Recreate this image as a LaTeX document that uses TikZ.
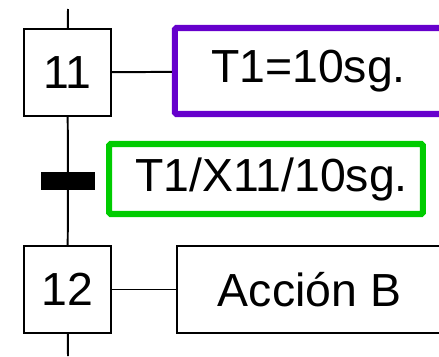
\documentclass[tikz,border=0pt]{standalone}
\usepackage{fontspec}
\setmainfont{Liberation Sans}
\usepackage{tikz}
\definecolor{morado}{RGB}{102,0,204}
\definecolor{verde}{RGB}{0,204,0}
\tikzstyle{every node}=[font=\fontsize{33}{40}\selectfont, inner sep=0pt]
\tikzstyle{etapa}=[draw, line width=1.4pt, minimum size=2.175cm]
\tikzstyle{accion}=[draw, line width=1.4pt, minimum height=2.175cm, minimum width=6.625cm]
\tikzstyle{linea}=[line width=1.4pt]

\begin{document}
\begin{tikzpicture}[x=0.025cm, y=-0.025cm]
\useasboundingbox (0,0) rectangle (439,356);
\coordinate (arriba) at (68,9);
\coordinate (abajo) at (68,356);
\node[etapa] (e11) at (67.5,72.5) {11};
\node[etapa] (e12) at (67.5,289.5) {12};
\node[fill=black, minimum width=1.35cm, minimum height=0.45cm] (t) at (68,181) {};
\node[draw=morado, line width=4.3pt, rounded corners=1pt, minimum width=6.675cm, minimum height=2.15cm] (a11) at (308.5,71) {T1=10sg.};
\node[draw=verde, line width=4.3pt, rounded corners=1pt, minimum width=7.84cm, minimum height=1.75cm] (c) at (266,179) {\hspace{0.275cm}T1/X11/10sg.};
\node[accion] (a12) at (309.5,289.5) {Acción B};
\draw[linea] (arriba) -- (e11);
\draw[linea] (e11) -- (t.center) -- (e12);
\draw[linea] (e12) -- (abajo);
\draw[linea] (e11) -- (a11);
\draw[linea] (e12) -- (a12);
\end{tikzpicture}
\end{document}
